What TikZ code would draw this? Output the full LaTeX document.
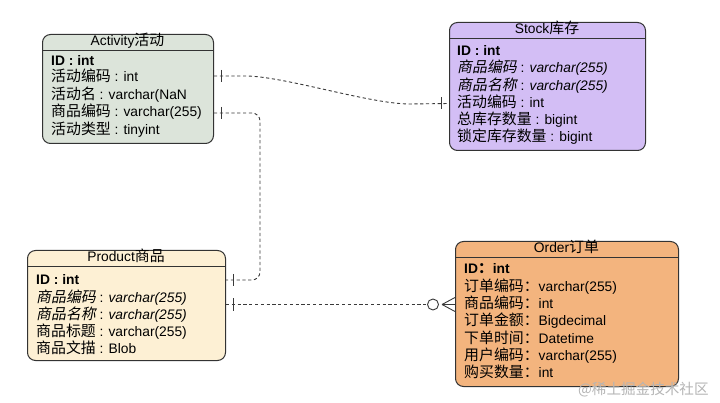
\documentclass[tikz,border=0pt]{standalone}
\usepackage{fontspec}
\setmainfont{Liberation Sans}
\newfontfamily\cjk[Scale=1.08]{Noto Sans CJK SC}
\newfontfamily\cjkit[Scale=1.08,FakeSlant=0.2]{Noto Sans CJK SC}
\newcommand\zh[1]{{\cjk #1}}
\newcommand\zhi[1]{{\cjkit #1}}
\definecolor{edgec}{HTML}{333333}
\definecolor{linec}{HTML}{3A3A3A}
\definecolor{actc}{HTML}{DCE4DA}
\definecolor{stkc}{HTML}{D3BEF5}
\definecolor{prdc}{HTML}{FDF0D4}
\definecolor{ordc}{HTML}{F3B47E}
\definecolor{wmc}{HTML}{B5B5B5}
\begin{document}
\begin{tikzpicture}[x=1pt,y=-1pt,
  entity/.style={draw=edgec, line width=1pt, rounded corners=8pt, anchor=north west, inner sep=0pt},
  hline/.style={draw=edgec, line width=0.9pt},
  row/.style={anchor=west, inner sep=0pt, text height=11pt, text depth=3pt, font=\fontsize{13.8}{16}\selectfont},
  title/.style={inner sep=0pt, text height=11pt, text depth=3pt, font=\fontsize{13.8}{16}\selectfont},
  rel/.style={draw=linec, line width=0.9pt, dash pattern=on 3.2pt off 2.6pt},
  bar/.style={draw=linec, line width=0.9pt}]
\useasboundingbox[fill=white] (0,0) rectangle (720,403);

% Activity
\node[entity, fill=actc, minimum width=171pt, minimum height=109pt] (act) at (42,34) {};
\draw[hline] ([yshift=-16pt]act.north west) -- ([yshift=-16pt]act.north east);
\node[title] (actt) at (127.5,42) {Activity\zh{活动}};
\node[row] (a1) at (51,62) {\textbf{ID : int}};
\node[row] (a2) at (51,78) {\zh{活动编码} : int};
\node[row] (a3) at (51,95.5) {\zh{活动名} : varchar(NaN};
\node[row] (a4) at (51,113) {\zh{商品编码} : varchar(255)};
\node[row] (a5) at (51,130.5) {\zh{活动类型} : tinyint};

% Stock
\node[entity, fill=stkc, minimum width=196pt, minimum height=128pt] (stk) at (449,22) {};
\draw[hline] ([yshift=-16pt]stk.north west) -- ([yshift=-16pt]stk.north east);
\node[title] (stkt) at (547,30) {Stock\zh{库存}};
\node[row] (s1) at (457,52) {\textbf{ID : int}};
\node[row] (s2) at (457,69) {\zhi{商品编码} : \textit{varchar(255)}};
\node[row] (s3) at (457,86.5) {\zhi{商品名称} : \textit{varchar(255)}};
\node[row] (s4) at (457,103.5) {\zh{活动编码} : int};
\node[row] (s5) at (457,121) {\zh{总库存数量} : bigint};
\node[row] (s6) at (457,138) {\zh{锁定库存数量} : bigint};

% Product
\node[entity, fill=prdc, minimum width=198pt, minimum height=110pt] (prd) at (27,250) {};
\draw[hline] ([yshift=-16pt]prd.north west) -- ([yshift=-16pt]prd.north east);
\node[title] (prdt) at (126,258) {Product\zh{商品}};
\node[row] (p1) at (36,280) {\textbf{ID : int}};
\node[row] (p2) at (36,298) {\zhi{商品编码} : \textit{varchar(255)}};
\node[row] (p3) at (36,315.5) {\zhi{商品名称} : \textit{varchar(255)}};
\node[row] (p4) at (36,332.5) {\zh{商品标题} : varchar(255)};
\node[row] (p5) at (36,349.5) {\zh{商品文描} : Blob};

% Order
\node[entity, fill=ordc, minimum width=223pt, minimum height=145pt] (ord) at (455,241) {};
\draw[hline] ([yshift=-16pt]ord.north west) -- ([yshift=-16pt]ord.north east);
\node[title] (ordt) at (566.5,249) {Order\zh{订单}};
\node[row] (o1) at (464,270) {\textbf{ID\zh{：}int}};
\node[row] (o2) at (464,287) {\zh{订单编码：}varchar(255)};
\node[row] (o3) at (464,304.5) {\zh{商品编码：}int};
\node[row] (o4) at (464,321.5) {\zh{订单金额：}Bigdecimal};
\node[row] (o5) at (464,339) {\zh{下单时间：}Datetime};
\node[row] (o6) at (464,356) {\zh{用户编码：}varchar(255)};
\node[row] (o7) at (464,373) {\zh{购买数量：}int};

% connector endpoints on the box edges
\coordinate (c1a) at ([yshift=2pt]act.east |- a2.west);
\coordinate (c1b) at (stk.west |- s4.west);
\coordinate (c2a) at (act.east |- a4.west);
\coordinate (c2b) at (prd.east |- p1.west);
\coordinate (c3a) at (prd.east |- o3.west);
\coordinate (c3b) at (ord.west |- o3.west);

% Activity -- Stock
\draw[rel] (c1a) -- ++(33,0) .. controls ++(40,1) and (370,104) .. (410,104) -- (c1b);
\draw[bar] ([xshift=7pt,yshift=6pt]c1a) -- ([xshift=7pt,yshift=-6pt]c1a);
\draw[bar] ([xshift=-8pt,yshift=6pt]c1b) -- ([xshift=-8pt,yshift=-6pt]c1b);

% Activity -- Product
\draw[rel, rounded corners=8pt] (c2a) -| (260,200) |- (c2b);
\draw[bar] ([xshift=7pt,yshift=6pt]c2a) -- ([xshift=7pt,yshift=-6pt]c2a);
\draw[bar] ([xshift=7pt,yshift=6pt]c2b) -- ([xshift=7pt,yshift=-6pt]c2b);

% Product -- Order
\draw[rel] (c3a) -- ([xshift=-22pt]c3b);
\draw[bar] ([xshift=7pt,yshift=6pt]c3a) -- ([xshift=7pt,yshift=-6pt]c3a);
\draw[bar, fill=white] ([xshift=-22pt]c3b) circle (5.5pt);
\draw[bar] ([xshift=-13pt]c3b) -- ([yshift=7pt]c3b);
\draw[bar] ([xshift=-13pt]c3b) -- (c3b);
\draw[bar] ([xshift=-13pt]c3b) -- ([yshift=-7pt]c3b);

% watermark
\node[anchor=west, inner sep=0pt, text=wmc, font=\cjk\fontsize{13.5}{16}\selectfont] (wm) at (578,390) {@稀土掘金技术社区};
\end{tikzpicture}
\end{document}
